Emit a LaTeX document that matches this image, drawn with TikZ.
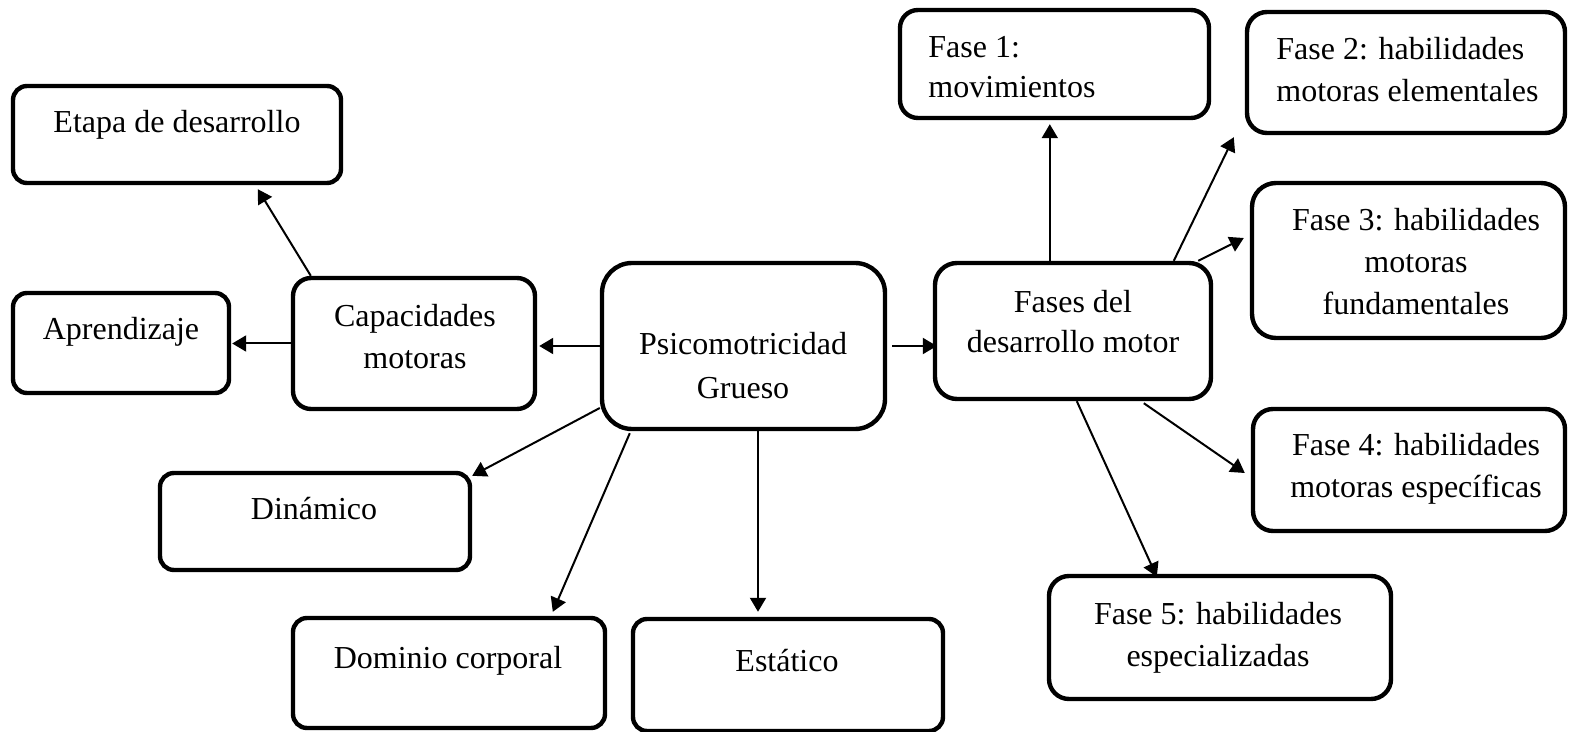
\documentclass[tikz,border=0pt]{standalone}
\usepackage{fontspec}
\setmainfont{Liberation Serif}
\usetikzlibrary{calc,arrows.meta}
\begin{document}
\begin{tikzpicture}[x=0.5pt,y=-0.5pt,
  box/.style={draw,line width=2.2pt,rounded corners=7pt,inner sep=0pt},
  txt/.style={inner sep=0pt,font=\fontsize{16}{21}\selectfont,align=center},
  arr/.style={line width=1pt,-{Triangle[length=7pt,width=8pt]}}]
\useasboundingbox[fill=white] (0,0) rectangle (1569,732);
% boxes
\node[box,minimum width=164pt,minimum height=48.5pt] (etapa) at (177,134.5) {};
\node[box,minimum width=108pt,minimum height=50pt] (apr) at (121,343) {};
\node[box,minimum width=121pt,minimum height=65.5pt,rounded corners=9pt] (cap) at (414,343.5) {};
\node[box,minimum width=141.5pt,minimum height=83pt,rounded corners=15pt] (psi) at (743.5,346) {};
\node[box,minimum width=138pt,minimum height=68pt,rounded corners=11pt] (fases) at (1073,331) {};
\node[box,minimum width=154.5pt,minimum height=54pt,rounded corners=9pt] (f1) at (1054.5,64) {};
\node[box,minimum width=159pt,minimum height=60.5pt,rounded corners=10pt] (f2) at (1406,72.5) {};
\node[box,minimum width=156.5pt,minimum height=77.5pt,rounded corners=12pt] (f3) at (1408.5,260.5) {};
\node[box,minimum width=156pt,minimum height=61pt,rounded corners=10pt] (f4) at (1409,470) {};
\node[box,minimum width=171pt,minimum height=61.5pt,rounded corners=10pt] (f5) at (1220,637.5) {};
\node[box,minimum width=155pt,minimum height=48.5pt] (din) at (315,521.5) {};
\node[box,minimum width=156pt,minimum height=55pt] (dom) at (449,673) {};
\node[box,minimum width=155pt,minimum height=56pt] (est) at (788,675) {};
% texts
\node[txt,anchor=base] (tetapa) at (177,133) {Etapa de desarrollo};
\node[txt,anchor=base] (tapr) at (121,340) {Aprendizaje};
\node[txt,anchor=base] (tcap) at (415,369) {Capacidades\\motoras};
\node[txt,anchor=base,font=\fontsize{16}{22}\selectfont] (tpsi) at (743,399) {Psicomotricidad\\Grueso};
\node[txt,anchor=base,font=\fontsize{16}{20}\selectfont] (tfases) at (1073,353) {Fases del\\desarrollo motor};
\node[txt,anchor=base west,align=left,font=\fontsize{16}{20}\selectfont] (tf1) at (928,98) {Fase 1:\\movimientos};
\node[txt,anchor=base west,align=left] (tf2) at (1276,102) {Fase 2: habilidades\\motoras elementales};
\node[txt,anchor=base] (tf3) at (1416,315) {Fase 3: habilidades\\motoras\\fundamentales};
\node[txt,anchor=base] (tf4) at (1416,498) {Fase 4: habilidades\\motoras específicas};
\node[txt,anchor=base] (tf5) at (1218,666) {Fase 5: habilidades\\especializadas};
\node[txt,anchor=base] (tdin) at (314,519) {Dinámico};
\node[txt,anchor=base] (tdom) at (448,668) {Dominio corporal};
\node[txt,anchor=base] (test) at (787,671) {Estático};
% connector end points
\coordinate (s7) at ($(psi.south)+(14.5,0)$);
\coordinate (e7) at ($(est.north)+(0,-5)$);
\coordinate (s8) at ($(fases.north west)+(117,0)$);
\coordinate (e8) at ($(f1.south)+(0,4)$);
% connectors
\draw[arr] ($(cap.north west)+(20,0)$) -- ($(etapa.south west)+(247,4)$);
\draw[arr] (cap.west) -- ($(cap.west -| apr.east)+(1,0)$);
\draw[arr] (psi.west) -- ($(psi.west -| cap.east)+(2,0)$);
\draw[arr] ($(psi.east)+(5,0)$) -- ($(psi.east -| fases.west)+(4,0)$);
\draw[arr] ($(psi.west)+(0,62)$) -- ($(din.north east)+(0,5)$);
\draw[arr] ($(psi.south west)+(30,2)$) -- ($(dom.north west)+(262,-4)$);
\draw[arr] (s7) -- (s7 |- e7);
\draw[arr] (s8) -- (s8 |- e8);
\draw[arr] ($(fases.north west)+(241,0)$) -- ($(f2.south west)+(-11,2)$);
\draw[arr] ($(fases.north east)+(-15,0)$) -- ($(f3.west)+(-6,-22.5)$);
\draw[arr] ($(fases.south west)+(211,2)$) -- ($(f4.west)+(-6,3)$);
\draw[arr] ($(fases.south west)+(144,0)$) -- ($(f5.north west)+(110,3)$);
\end{tikzpicture}
\end{document}
